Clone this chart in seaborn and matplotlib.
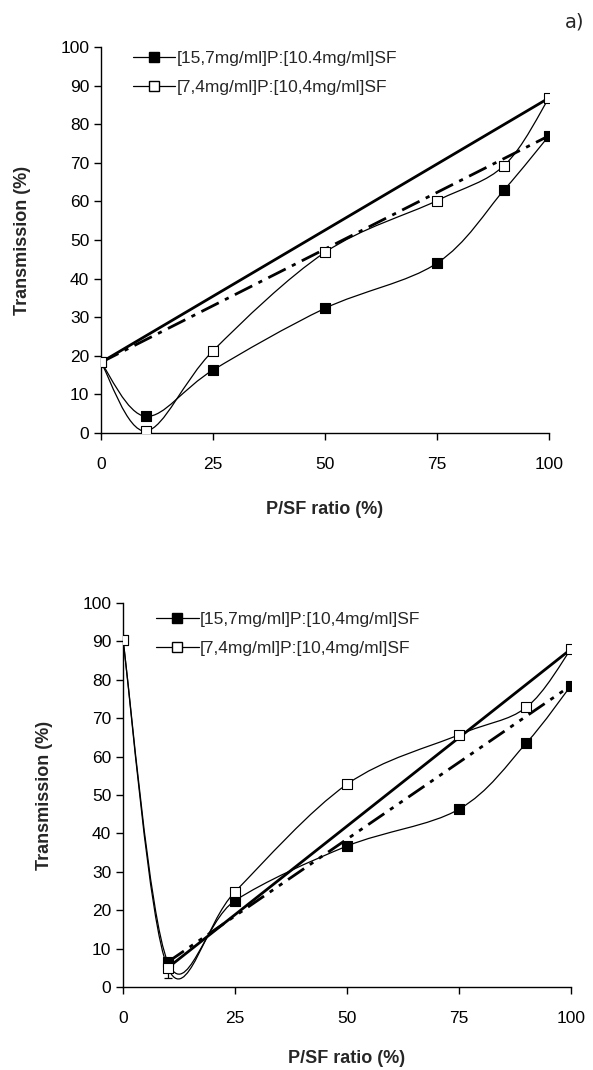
import numpy as np
import pandas as pd
import matplotlib
matplotlib.use("Agg")
import matplotlib.pyplot as plt
from matplotlib.path import Path
from matplotlib.patches import PathPatch
import seaborn as sns

# ---------------- data ----------------
ratio = [0, 10, 25, 50, 75, 90, 100]

top_filled = [18.3, 4.3, 16.3, 32.3, 44.0, 63.0, 77.0]
top_open = [18.3, 0.5, 21.3, 46.8, 60.2, 69.3, 86.8]

bot_filled = [90.3, 6.5, 22.5, 36.7, 46.3, 63.5, 78.5]
bot_open = [90.3, 5.0, 24.8, 52.8, 65.7, 72.8, 88.0]
bot_open_err_low = [0, 2.6, 0, 0, 0, 0, 0]

top_labels = ["[15,7mg/ml]P:[10.4mg/ml]SF", "[7,4mg/ml]P:[10,4mg/ml]SF"]
bot_labels = ["[15,7mg/ml]P:[10,4mg/ml]SF", "[7,4mg/ml]P:[10,4mg/ml]SF"]

yticks = [0, 10, 20, 30, 40, 50, 60, 70, 80, 90, 100]
xticks = [0, 25, 50, 75, 100]

sns.set_theme(style="white")
plt.rcParams['font.family'] = ['Liberation Sans', 'DejaVu Sans']

W, H = 593, 1070
fig = plt.figure(figsize=(W / 100, H / 100), dpi=100)
ax1 = fig.add_axes([101/W, 1-433/H, 448/W, 386/H])
ax2 = fig.add_axes([123/W, 1-987/H, 448/W, 384/H])


def smooth_path(ax, xs, ys, lw=0.9):
    """Excel-like smoothed line drawn as cubic Bezier segments."""
    xs = np.asarray(xs, float)
    ys = np.asarray(ys, float)
    n = len(xs)
    verts = [(xs[0], ys[0])]
    codes = [Path.MOVETO]
    for i in range(n - 1):
        p0 = np.array([xs[max(i-1, 0)], ys[max(i-1, 0)]])
        p1 = np.array([xs[i], ys[i]])
        p2 = np.array([xs[i+1], ys[i+1]])
        p3 = np.array([xs[min(i+2, n-1)], ys[min(i+2, n-1)]])
        c1 = p1 + (p2 - p0) / 6.0
        c2 = p2 - (p3 - p1) / 6.0
        verts += [tuple(c1), tuple(c2), tuple(p2)]
        codes += [Path.CURVE4, Path.CURVE4, Path.CURVE4]
    patch = PathPatch(Path(verts, codes), facecolor="none", edgecolor="black",
                      lw=lw, zorder=2)
    ax.add_patch(patch)


def draw_panel(ax, filled, opn, labels, trend_start, filled_ls, leg_anchor,
               xlabelpad, err_low=None):
    smooth_path(ax, ratio, filled)
    smooth_path(ax, ratio, opn)
    s = trend_start
    df_t1 = pd.DataFrame({"x": [ratio[s], ratio[-1]], "y": [opn[s], opn[-1]]})
    df_t2 = pd.DataFrame({"x": [ratio[s], ratio[-1]], "y": [filled[s], filled[-1]]})
    sns.lineplot(data=df_t1, x="x", y="y", ax=ax, color="black", lw=2.0,
                 zorder=3, legend=False)
    sns.lineplot(data=df_t2, x="x", y="y", ax=ax, color="black", lw=2.0,
                 zorder=3, legend=False)
    ax.lines[-1].set_dashes(filled_ls)
    if err_low is not None:
        idx = [i for i, e in enumerate(err_low) if e > 0]
        ax.errorbar([ratio[i] for i in idx], [opn[i] for i in idx],
                    yerr=[[err_low[i] for i in idx], [0 for _ in idx]],
                    fmt="none", ecolor="black", elinewidth=0.9, capsize=3,
                    capthick=0.9, zorder=3)
    df_f = pd.DataFrame({"x": ratio, "y": filled})
    df_o = pd.DataFrame({"x": ratio, "y": opn})
    sns.scatterplot(data=df_f, x="x", y="y", ax=ax, marker="s", s=55,
                    color="black", edgecolor="black", linewidth=0.8, zorder=4)
    sns.scatterplot(data=df_o, x="x", y="y", ax=ax, marker="s", s=55,
                    color="white", edgecolor="black", linewidth=0.8, zorder=5)
    h1, = ax.plot([], [], color="black", lw=0.9, marker="s", ms=7,
                  mfc="black", mec="black")
    h2, = ax.plot([], [], color="black", lw=0.9, marker="s", ms=7,
                  mfc="white", mec="black")
    ax.legend([h1, h2], labels, loc="upper left", bbox_to_anchor=leg_anchor,
              frameon=False, fontsize=12.5, handlelength=2.45,
              handletextpad=0.08, labelspacing=0.78, borderpad=0.0,
              borderaxespad=0.0)

    ax.set_xlim(0, 100)
    ax.set_ylim(0, 100)
    ax.set_xticks(xticks)
    ax.set_yticks(yticks)
    ax.tick_params(axis="both", direction="out", length=5, width=1,
                   labelsize=12.5, colors="black", left=True, bottom=True)
    ax.tick_params(axis="x", pad=12)
    for sp in ["top", "right"]:
        ax.spines[sp].set_visible(False)
    for sp in ["left", "bottom"]:
        ax.spines[sp].set_color("black")
        ax.spines[sp].set_linewidth(1.0)
    ax.set_xlabel("P/SF ratio (%)", fontsize=13, fontweight="bold",
                  labelpad=xlabelpad)
    ax.set_ylabel("Transmission (%)", fontsize=13, fontweight="bold", labelpad=21)
    ax.patch.set_alpha(0)


draw_panel(ax1, top_filled, top_open, top_labels, 0, (7, 2.5, 1.5, 2.5),
           (0.071, 0.990), 21)
draw_panel(ax2, bot_filled, bot_open, bot_labels, 1,
           (7, 2.5, 1.5, 2.5, 1.5, 2.5), (0.074, 0.977), 17.5,
           err_low=bot_open_err_low)

fig.text(575/W, 1-22/H, "a)", family="DejaVu Sans", fontsize=14,
         ha="center", va="center")

fig.savefig("out.png", dpi=100, facecolor="white")
